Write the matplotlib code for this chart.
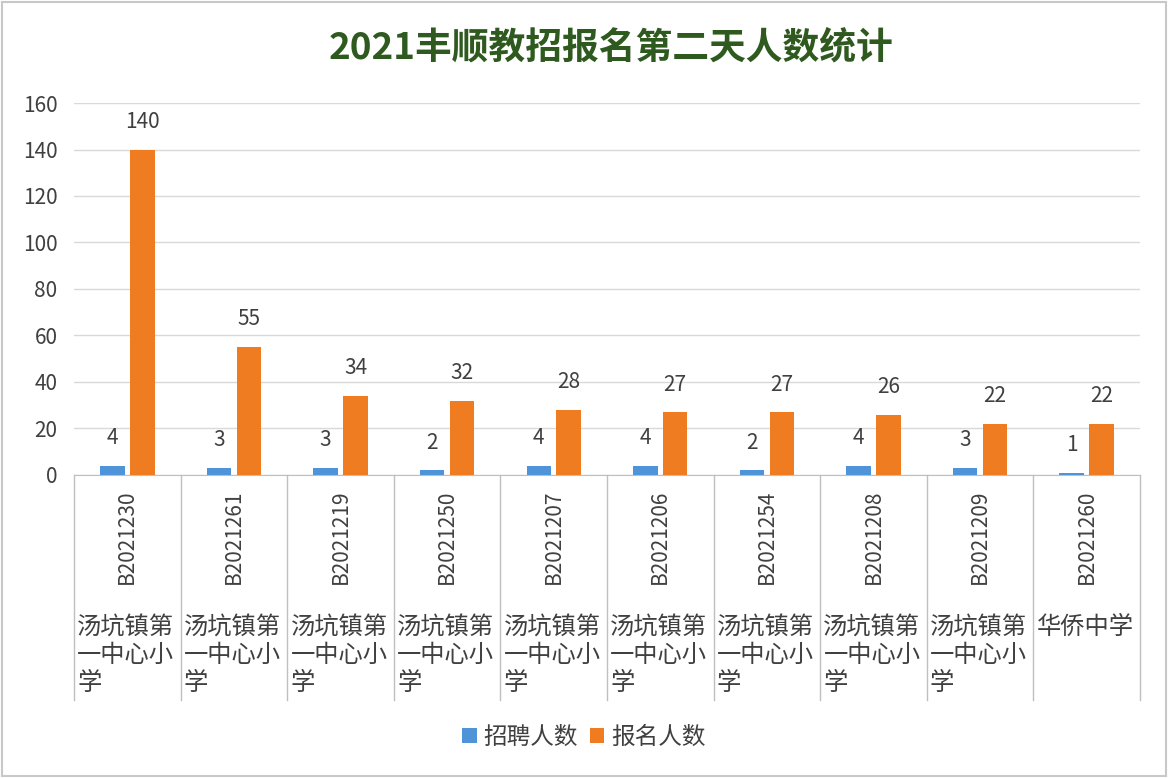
import matplotlib.pyplot as plt
import matplotlib.transforms as mtransforms
from matplotlib.patches import Rectangle
import numpy as np

plt.rcParams['font.family'] = ['Noto Sans CJK SC', 'DejaVu Sans']

# 数据
codes = ["B2021230", "B2021261", "B2021219", "B2021250", "B2021207",
         "B2021206", "B2021254", "B2021208", "B2021209", "B2021260"]
schools = ["汤坑镇第一中心小学"] * 9 + ["华侨中学"]
recruit = [4, 3, 3, 2, 4, 4, 2, 4, 3, 1]
applied = [140, 55, 34, 32, 28, 27, 27, 26, 22, 22]

blue = "#4f93d8"
orange = "#f07c22"
gray_txt = "#404040"

fig = plt.figure(figsize=(11.68, 7.78), dpi=100)
ax = fig.add_axes([0.0634, 0.3895, 0.9126, 0.4781])

x = np.arange(len(codes))
w = 0.23
off = 0.14
b1 = ax.bar(x - off, recruit, w, color=blue, label="招聘人数", zorder=3)
b2 = ax.bar(x + off, applied, w, color=orange, label="报名人数", zorder=3)

for bars in (b1, b2):
    for r in bars:
        ax.annotate(f"{int(r.get_height())}",
                    (r.get_x() + r.get_width() / 2, r.get_height()),
                    xytext=(0, 12), textcoords="offset points",
                    ha="center", va="bottom", fontsize=15, color=gray_txt)

ax.set_xlim(-0.5, len(codes) - 0.5)
ax.set_ylim(0, 160)
ax.set_yticks(range(0, 161, 20))
ax.tick_params(axis="y", length=0, labelsize=15, labelcolor=gray_txt, pad=12)
ax.set_xticks([])
ax.grid(axis="y", color="#d9d9d9", linewidth=1, zorder=0)
for s in ("top", "right", "left"):
    ax.spines[s].set_visible(False)
ax.spines["bottom"].set_color("#bfbfbf")

# 多级分类轴
trans = mtransforms.blended_transform_factory(ax.transData, ax.transAxes)
for i in range(len(codes) + 1):
    ax.plot([i - 0.5, i - 0.5], [0, -0.605], color="#bfbfbf", lw=1,
            transform=trans, clip_on=False)
for i, (c, s) in enumerate(zip(codes, schools)):
    ax.text(i, -0.04, c, rotation=90, ha="center", va="top",
            fontsize=15, color=gray_txt, transform=trans)
    lines = [s[j:j + 4] for j in range(0, len(s), 4)]
    ax.text(i - 0.47, -0.372, "\n".join(lines), ha="left", va="top",
            fontsize=17.5, color=gray_txt, transform=trans, linespacing=1.12)

fig.text(0.523, 0.938, "2021丰顺教招报名第二天人数统计", ha="center", va="center",
         fontsize=26.5, fontweight="bold", color="#2f5a1f")

fig.legend(handles=[b1, b2], loc="center", bbox_to_anchor=(0.5, 0.052),
           ncol=2, frameon=False, fontsize=17, handlelength=0.6,
           handleheight=0.6, handletextpad=0.3, columnspacing=0.5,
           labelcolor=gray_txt)

fig.patches.append(Rectangle((0.002, 0.003), 0.996, 0.994, transform=fig.transFigure,
                             fill=False, edgecolor="#c8c8c8", lw=1.5))

fig.savefig("out.png", dpi=100)
